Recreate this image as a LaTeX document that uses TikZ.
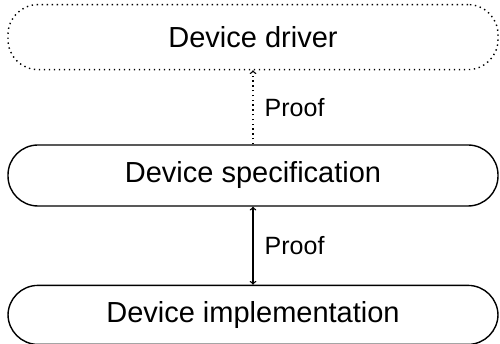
\documentclass[tikz,border=0pt]{standalone}
\usepackage{fontspec}
\setmainfont{Liberation Sans}
\usetikzlibrary{positioning}

\begin{document}
\begin{tikzpicture}[x=1pt,y=1pt,
 layer/.style={draw,line width=1.4pt,rounded corners=30pt,minimum width=490pt,
  minimum height=61pt,inner sep=0pt,font=\fontsize{29}{33}\selectfont},
 proof/.style={right,inner sep=11pt,font=\fontsize{25}{30}\selectfont}]
 \useasboundingbox (0,0) rectangle (500,344);
 \node[layer] (spec) at (253,168.5) {Device specification};
 \node[layer, dash pattern=on 1.4pt off 3.6pt, minimum height=65pt, above=74pt of spec] (drv) {Device driver};
 \node[layer, minimum height=59pt, below=78pt of spec] (impl) {Device implementation};

 \draw[line width=1.4pt, dash pattern=on 1.4pt off 3.4pt, ->] (spec.north) -- (drv.south)
 node[midway,proof] {Proof};
 \draw[line width=1.4pt, <->] (spec.south) -- (impl.north)
 node[midway,proof] {Proof};
\end{tikzpicture}
\end{document}
